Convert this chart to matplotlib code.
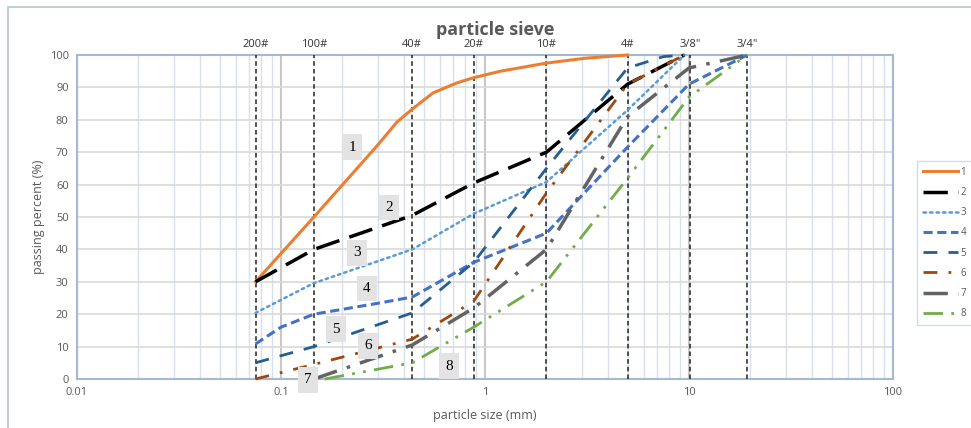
import matplotlib
matplotlib.use("Agg")
import matplotlib.pyplot as plt
from matplotlib.patches import Rectangle

plt.rcParams["font.family"] = ["Open Sans", "DejaVu Sans"]

# sieve lines as drawn on the chart (mm) and their names
sieve_sizes = [0.075, 0.145, 0.44, 0.88, 2.0, 5.0, 10.1, 19.3]
sieve_names = ["200#", "100#", "40#", "20#", "10#", "4#", '3/8"', '3/4"']

# grading curves (size mm, passing %)
size_1 = [0.075, 0.145, 0.296, 0.37, 0.44, 0.556, 0.729, 0.88,
          1.19, 2.0, 3.1, 5.0]
pass_1 = [30, 50, 72, 79.3, 83.3, 88.3, 91.4, 93, 95, 97.5, 99, 100]
size_2 = [0.075, 0.145, 0.44, 0.88, 2.0, 5.0, 9.5]
pass_2 = [30, 40, 50.5, 60.5, 70, 91, 100]
size_3 = [0.075, 0.145, 0.44, 0.88, 2.0, 5.0, 9.5]
pass_3 = [20.4, 29.6, 40, 51, 60.8, 83, 100]
size_4 = [0.075, 0.1, 0.145, 0.3, 0.44, 0.88, 2.0, 5.0, 10.0, 19.3]
pass_4 = [10.8, 16, 20, 23.4, 25.3, 36, 45, 71.6, 91, 100]
size_5 = [0.075, 0.145, 0.44, 0.88, 2.0, 5.0, 7.5, 9.5]
pass_5 = [5, 10, 20.4, 36, 65, 96, 99.5, 100]
size_6 = [0.075, 0.145, 0.44, 0.88, 2.0, 5.0, 9.5]
pass_6 = [0, 4.5, 12.3, 24, 57.4, 91, 100]
size_7 = [0.145, 0.44, 0.88, 2.0, 5.0, 10.0, 19.3]
pass_7 = [0, 10.5, 21.9, 40, 81, 96, 100]
size_8 = [0.164, 0.44, 0.88, 2.0, 5.0, 10.0, 19.3]
pass_8 = [0, 5, 16, 30, 62, 87, 100]

curve_names = ["1", "2", "3", "4", "5", "6", "7", "8"]
label_x = [0.223, 0.338, 0.236, 0.264, 0.186, 0.267, 0.136, 0.667]
label_y = [71.6, 53, 38.9, 28, 15.4, 10.2, -0.3, 4.0]

sizes = [size_1, size_2, size_3, size_4, size_5, size_6, size_7, size_8]
passes = [pass_1, pass_2, pass_3, pass_4, pass_5, pass_6, pass_7, pass_8]
colors = ["#ED7D31", "#000000", "#5B9BD5", "#4472C4", "#255E91",
          "#9E480E", "#636363", "#70AD47"]
widths = [2.2, 2.5, 1.8, 2.2, 2.0, 2.0, 2.5, 2.0]
dashes = [None, (7, 3), (1, 1.6), (3, 1.5), (5, 4), (5, 4, 1, 4),
          (7, 3, 1, 3), (7, 3, 1, 3, 1, 3)]

fig = plt.figure(figsize=(9.71, 4.28), dpi=100)
ax = fig.add_axes([77 / 971, 1 - 379 / 428, 816 / 971, 324 / 428])

fig.patches.append(Rectangle((8 / 971, -0.1), 1.2, 1.1 - 7 / 428,
                             transform=fig.transFigure, fill=False,
                             edgecolor="#b4c2d6", lw=1.2))

for i in range(8):
    ln, = ax.plot(sizes[i], passes[i], color=colors[i], lw=widths[i],
                  label=curve_names[i], zorder=4, clip_on=False)
    if dashes[i] is not None:
        ln.set_dashes(dashes[i])
    if i == 2:
        ln.set_dash_capstyle("round")

for s, name in zip(sieve_sizes, sieve_names):
    ax.axvline(s, color="#222222", lw=1.1, ls=(0, (3, 2)), zorder=3)
    ax.text(s, 101.5, name, ha="center", va="bottom", fontsize=8,
            color="#333333")

for i in range(8):
    ax.text(label_x[i], label_y[i], curve_names[i], ha="center", va="center",
            fontsize=11, family="Liberation Serif", zorder=6,
            bbox=dict(boxstyle="square,pad=0.4", fc="#e3e3e3", ec="none"))

ax.set_xscale("log")
ax.set_xlim(0.01, 100)
ax.set_ylim(0, 100)
ax.set_yticks(range(0, 101, 10))
ax.set_xticks([0.01, 0.1, 1, 10, 100])
ax.set_xticklabels(["0.01", "0.1", "1", "10", "100"])
ax.tick_params(which="both", length=0, labelsize=8, colors="#595959", pad=6)
ax.grid(True, which="major", axis="y", color="#d9d9d9", lw=1.2, zorder=0)
ax.grid(True, which="major", axis="x", color="#c8c8c8", lw=1.5, zorder=0)
ax.grid(True, which="minor", axis="x", color="#d6e0f0", lw=1.0, zorder=0)
for sp in ax.spines.values():
    sp.set_color("#a8b8d0")
    sp.set_linewidth(1.5)

ax.set_xlabel("particle size (mm)", fontsize=9, color="#595959", labelpad=8)
ax.set_ylabel("passing percent (%)", fontsize=9, color="#595959", labelpad=3)
fig.text(495 / 971, 1 - 30 / 428, "particle sieve", ha="center", va="center",
         fontsize=13, fontweight="bold", color="#595959")

leg = ax.legend(loc="upper left", bbox_to_anchor=(912 / 971, 1 - 156 / 428),
                bbox_transform=fig.transFigure, fontsize=7, frameon=True,
                fancybox=False, edgecolor="#c5d3e8", handlelength=3.6,
                labelspacing=0.95, borderpad=0.6, handletextpad=0.3,
                labelcolor="#595959")
leg.get_frame().set_linewidth(1.0)

fig.savefig("out.png", dpi=100)
